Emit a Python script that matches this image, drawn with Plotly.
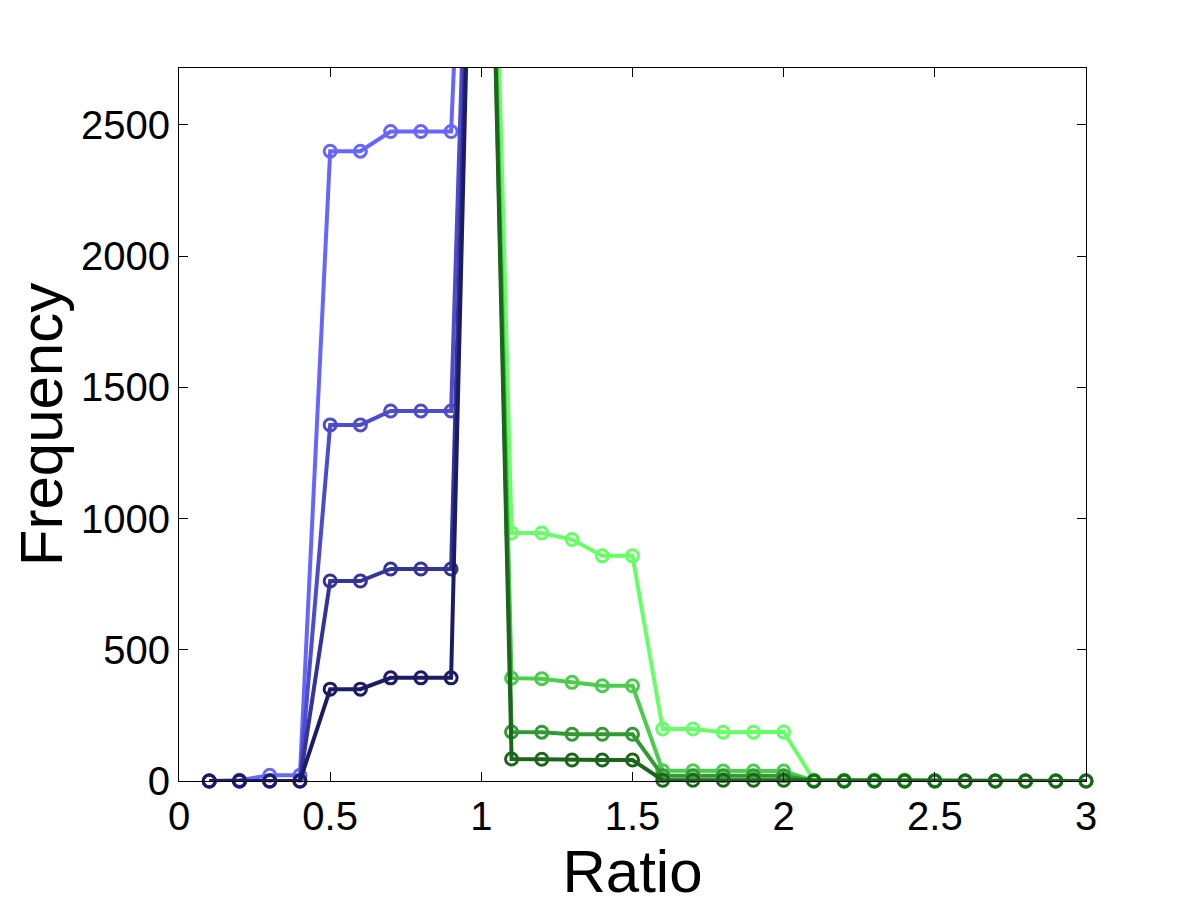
import plotly.graph_objects as go

# ---- data ----
x_blue = [0.1, 0.2, 0.3, 0.4, 0.5, 0.6, 0.7, 0.8, 0.9, 1.0]
blue1 = [0, 3, 22, 22, 2400, 2400, 2475, 2475, 2475, 5100]
blue2 = [0, 0, 0, 0, 1357, 1357, 1410, 1410, 1410, 5100]
blue3 = [0, 0, 0, 0, 762, 762, 808, 808, 808, 5100]
blue4 = [0, 0, 0, 0, 350, 350, 393, 393, 393, 5100]

x_green = [1.0, 1.1, 1.2, 1.3, 1.4, 1.5, 1.6, 1.7, 1.8, 1.9, 2.0,
           2.1, 2.2, 2.3, 2.4, 2.5, 2.6, 2.7, 2.8, 2.9, 3.0]
green1 = [5300, 945, 945, 920, 858, 858, 198, 198, 186, 186, 187,
          4, 4, 4, 4, 3, 0, 0, 0, 0, 0]
green2 = [5100, 392, 390, 376, 363, 363, 39, 39, 38, 38, 38,
          0, 0, 0, 0, 0, 0, 0, 0, 0, 0]
green3 = [5100, 187, 186, 178, 178, 178, 20, 20, 20, 20, 20,
          0, 0, 0, 0, 0, 0, 0, 0, 0, 0]
green4 = [5100, 84, 83, 80, 80, 80, 3, 3, 3, 3, 3,
          0, 0, 0, 0, 0, 0, 0, 0, 0, 0]

blue_colors = ["#6666ff", "#4c4ccc", "#333399", "#1b1b66"]
green_colors = ["#66ff66", "#4ccc4c", "#339933", "#1b661b"]

x_ticks = [0, 0.5, 1, 1.5, 2, 2.5, 3]
x_ticklabels = ["0", "0.5", "1", "1.5", "2", "2.5", "3"]
y_ticks = [0, 500, 1000, 1500, 2000, 2500]
y_ticklabels = ["0", "500", "1000", "1500", "2000", "2500"]

Y_MAX = 2717

fig = go.Figure()


def add_series(xs, ys, color):
    # hide markers that lie outside the visible y range
    sizes = [0 if v > Y_MAX else 12 for v in ys]
    fig.add_trace(go.Scatter(
        x=xs, y=ys, mode="lines+markers",
        line=dict(color=color, width=4),
        marker=dict(symbol="circle-open", size=sizes, color=color,
                    opacity=1,
                    line=dict(color=color, width=3)),
        cliponaxis=False, showlegend=False,
    ))


for ys, c in zip([blue1, blue2, blue3, blue4], blue_colors):
    add_series(x_blue, ys, c)
for ys, c in zip([green1, green2, green3, green4], green_colors):
    add_series(x_green, ys, c)

axis_common = dict(
    showline=True, linecolor="black", linewidth=1, mirror="ticks",
    ticks="inside", ticklen=9, tickcolor="black", showgrid=False,
    zeroline=False, tickfont=dict(size=40, color="black"),
)

fig.update_xaxes(range=[0, 3], tickvals=x_ticks, ticktext=x_ticklabels,
                 title=dict(text="Ratio", font=dict(size=60, color="black"),
                            standoff=2),
                 **axis_common)
fig.update_yaxes(range=[0, Y_MAX], tickvals=y_ticks, ticktext=y_ticklabels,
                 title=dict(text="Frequency", font=dict(size=60, color="black"),
                            standoff=14),
                 **axis_common)

fig.update_layout(
    width=1200, height=900,
    margin=dict(l=171, r=122, t=60, b=127),
    paper_bgcolor="white", plot_bgcolor="white",
    font=dict(family="Liberation Sans, Arial, sans-serif", color="black"),
)

fig.write_html("out.html")
